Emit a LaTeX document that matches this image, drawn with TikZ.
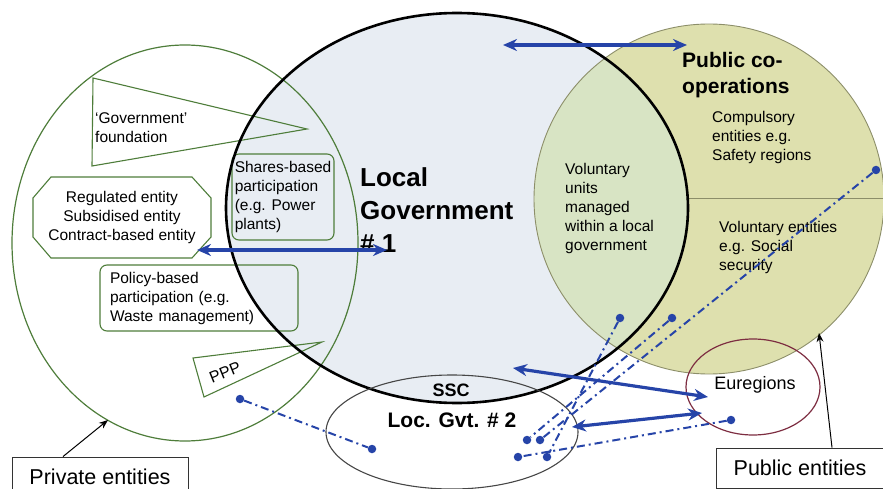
\documentclass[tikz,border=0pt]{standalone}
\usepackage{fontspec}
\setmainfont{Liberation Sans}
\usetikzlibrary{positioning,arrows.meta}
\definecolor{govfill}{RGB}{232,237,243}
\definecolor{pubfill}{RGB}{222,224,174}
\definecolor{mixfill}{RGB}{216,228,196}
\definecolor{publine}{RGB}{140,142,105}
\definecolor{privgreen}{RGB}{78,125,58}
\definecolor{linkblue}{RGB}{38,68,168}
\definecolor{euline}{RGB}{125,45,65}
\definecolor{sscline}{RGB}{70,70,70}

\tikzset{
  bodytext/.style={font=\fontsize{15.5}{19}\selectfont,align=left,inner sep=0pt},
  greenbox/.style={draw=privgreen,line width=1.1pt,rounded corners=7pt},
  twoway/.style={linkblue,line width=3.2pt,{Stealth[length=14pt,width=12pt]}-{Stealth[length=14pt,width=12pt]}},
  dashlink/.style={linkblue,line width=2pt,dash pattern=on 8pt off 4pt on 2pt off 4pt},
  dot/.style={circle,fill=linkblue,inner sep=0pt,minimum size=8.5pt},
  tagbox/.style={draw=black!80,line width=0.9pt,font=\fontsize{21.5}{25}\selectfont,minimum height=40pt},
  pointer/.style={line width=1pt,-{Stealth[length=9pt,width=7pt]}},
}

\begin{document}
\begin{tikzpicture}[x=1pt,y=-1pt]
\useasboundingbox (0,0) rectangle (883,489);
% local government and public co-operations
\fill[govfill] (457,208) ellipse [x radius=231pt,y radius=195pt];
\fill[pubfill] (709,199) circle [radius=175pt];
\begin{scope}
  \clip (457,208) ellipse [x radius=231pt,y radius=195pt];
  \fill[mixfill] (709,199) circle [radius=175pt];
\end{scope}
\draw[publine,line width=0.9pt] (709,199) circle [radius=175pt];
\draw[publine,line width=1pt] (688,199) -- (883,199);
% private entities
\draw[privgreen,line width=1.2pt] (185,243) ellipse [x radius=173pt,y radius=198pt];
\draw[privgreen,line width=1.1pt] (93,78) -- (307,129) -- (92,166) -- cycle;
\node[bodytext,anchor=west] (foundation) at (95,128) {`Government'\\foundation};
\draw[privgreen,line width=1.1pt] (51,177) -- (192,177) -- (211,198) -- (211,237) -- (192,258)
  -- (51,258) -- (33,237) -- (33,198) -- cycle;
\node[bodytext,align=center] (regulated) at (122,217) {Regulated entity\\Subsidised entity\\Contract-based entity};
\node[greenbox,bodytext,minimum width=102pt,minimum height=86pt] (shares) at (283,197)
  {Shares-based\\participation\\(e.g. Power\\plants)};
\node[greenbox,bodytext,text width=178pt,minimum width=198pt,minimum height=66pt] (policy) at (199,298)
  {Policy-based\\participation (e.g.\\Waste management)};
\draw[privgreen,line width=1.1pt] (193,358) -- (322,342) -- (204,397) -- cycle;
\node[rotate=22,font=\fontsize{16}{19}\selectfont,inner sep=0pt] (ppp) at (225,372) {PPP};
% local government outline and label
\draw[line width=2.6pt] (457,208) ellipse [x radius=231pt,y radius=195pt];
\node[font=\bfseries\fontsize{26}{33}\selectfont,align=left,anchor=west,inner sep=0pt] (lgov) at (360,210)
  {Local\\Government\\\# 1};
% public co-operations labels
\node[font=\bfseries\fontsize{21}{26}\selectfont,align=left,anchor=west,inner sep=0pt] (pubco) at (682,75)
  {Public co-\\operations};
\node[bodytext,anchor=west] (compulsory) at (712,137) {Compulsory\\entities e.g.\\Safety regions};
\node[bodytext,anchor=west] (volunits) at (565,208) {Voluntary\\units\\managed\\within a local\\government};
\node[bodytext,anchor=west] (volentities) at (719,247) {Voluntary entities\\e.g. Social\\security};
% SSC and Euregions
\draw[sscline,line width=1.1pt] (452,432) ellipse [x radius=126pt,y radius=57pt];
\node[font=\bfseries\fontsize{18}{21}\selectfont] (ssc) at (451,390) {SSC};
\node[font=\bfseries\fontsize{21}{25}\selectfont] (locgvt) at (452,420) {Loc. Gvt. \# 2};
\draw[euline,line width=1.2pt] (753,387) ellipse [x radius=67pt,y radius=48pt];
\node[font=\fontsize{18}{21}\selectfont] (euregions) at (755,385) {Euregions};
% two-way relations
\coordinate (a1) at (503,45);  \coordinate (b1) at (687,45);
\coordinate (a2) at (197,250); \coordinate (b2) at (387,250);
\coordinate (a3) at (513,368); \coordinate (b3) at (708,397);
\coordinate (a4) at (572,427); \coordinate (b4) at (702,413);
\draw[twoway] (a1) -- (b1);
\draw[twoway] (a2) -- (b2);
\draw[twoway] (a3) -- (b3);
\draw[twoway] (a4) -- (b4);
% dash-dot links
\node[dot] (pppdot) at (240,399) {};
\node[dot] (sscdot) at (372,449) {};
\node[dot] (socdot) at (876,170) {};
\node[dot] (volA) at (620,318) {};
\node[dot] (volB) at (672,318) {};
\node[dot] (eudot) at (731,420) {};
\node[dot] (lg1) at (527,440) {};
\node[dot] (lg2) at (540,440) {};
\node[dot] (lg3) at (518,457) {};
\node[dot] (lg4) at (547,457) {};
\draw[dashlink] (pppdot) -- (sscdot);
\draw[dashlink] (socdot) -- (lg2);
\draw[dashlink] (volB) -- (lg1);
\draw[dashlink] (volA) -- (lg4);
\draw[dashlink] (eudot) -- (lg3);
% entity tags
\node[tagbox,minimum width=176pt] (privtag) at (100,477) {Private entities};
\coordinate (privedge) at (108,420);
\draw[pointer] ([xshift=-37pt]privtag.north) -- (privedge);
\node[tagbox,minimum width=167pt] (pubtag) at (800,468) {Public entities};
\coordinate (pubedge) at (819,333);
\draw[pointer] ([xshift=32pt]pubtag.north) -- (pubedge);
\end{tikzpicture}
\end{document}
